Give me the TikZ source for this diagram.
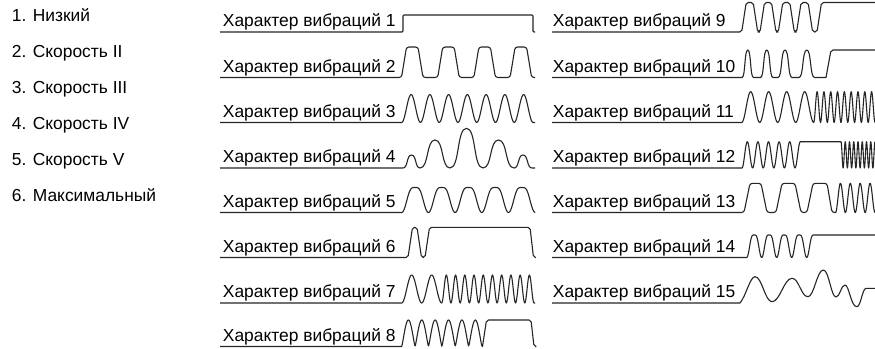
\documentclass[tikz,border=0pt]{standalone}
\usepackage{fontspec}
\setmainfont{Liberation Sans}
% hump from current point (#1,#3) to (#1+#2,#3), peak level #4, shape #5
\newcommand\hump[5]{ .. controls ({#1+#5*(#2)},#3) and ({#1+(0.5-#5)*(#2)},#4) .. ({#1+0.5*(#2)},#4)
 .. controls ({#1+(0.5+#5)*(#2)},#4) and ({#1+(1-#5)*(#2)},#3) .. ({#1+(#2)},#3)}
\begin{document}
\begin{tikzpicture}[x=1pt,y=-1pt,
  wave/.style={line width=1.1pt,draw=black!85,line join=round},
  lab/.style={anchor=base west,inner sep=0pt,font=\fontsize{17.4}{20}\selectfont}]
\fill[white] (0,0) rectangle (875,348);
\useasboundingbox (0,0) rectangle (875,348);

% left list
\node[lab] (l1) at (11.7,21) {1. Низкий};
\node[lab] (l2) at (11.7,57) {2. Скорость II};
\node[lab] (l3) at (11.7,93) {3. Скорость III};
\node[lab] (l4) at (11.7,129) {4. Скорость IV};
\node[lab] (l5) at (11.7,165) {5. Скорость V};
\node[lab] (l6) at (11.7,201) {6. Максимальный};

% middle labels
\node[lab] (m1) at (222.7,26.5) {Характер вибраций 1};
\node[lab] (m2) at (222.7,72) {Характер вибраций 2};
\node[lab] (m3) at (222.7,117) {Характер вибраций 3};
\node[lab] (m4) at (222.7,162.5) {Характер вибраций 4};
\node[lab] (m5) at (222.7,207) {Характер вибраций 5};
\node[lab] (m6) at (222.7,252) {Характер вибраций 6};
\node[lab] (m7) at (222.7,297.5) {Характер вибраций 7};
\node[lab] (m8) at (222.7,341) {Характер вибраций 8};

% right labels
\node[lab] (r9) at (552.7,26.5) {Характер вибраций 9};
\node[lab] (r10) at (552.7,72) {Характер вибраций 10};
\node[lab] (r11) at (552.7,117) {Характер вибраций 11};
\node[lab] (r12) at (552.7,162.5) {Характер вибраций 12};
\node[lab] (r13) at (552.7,207) {Характер вибраций 13};
\node[lab] (r14) at (552.7,252) {Характер вибраций 14};
\node[lab] (r15) at (552.7,297.5) {Характер вибраций 15};

% ---------- middle waveforms ----------
% 1
\draw[wave,rounded corners=1pt] (220,32) -- (403,32) -- (403,15) -- (533,15) -- (533,32) -- (535,32);
% 2
\draw[wave,rounded corners=2.5pt] (220,77.5)
  foreach \i in {0,...,3}{ -- ({401.5+36.2*\i},77.5) -- ({406.5+36.2*\i},47) -- ({418+36.2*\i},47) -- ({423+36.2*\i},77.5) }
  -- (535,77.5);
% 3
\draw[wave] (220,122.5) -- (401.7,122.5)
  -- plot[domain=401.7:533,samples=141,variable=\t] (\t,{122.5-28*(1-cos(((\t-401.7)/18.757)*360))/2})
  -- (535,122.5);
% 4
\draw[wave] (220,168) -- (403,168) \hump{403}{17}{168}{155}{0.3} \hump{420}{30}{168}{140}{0.3}
  \hump{450}{33}{168}{128.3}{0.3} \hump{483}{31}{168}{140}{0.3} \hump{514}{18}{168}{155}{0.3} -- (535,168);
% 5
\draw[wave] (220,212.5) -- (401.7,212.5)
  -- plot[domain=401.7:535.2,samples=201,variable=\t] (\t,{212.5-25*sin(90*(1-cos(((\t-401.7)/26.7)*360))/2)});
% 6
\draw[wave,rounded corners=2pt] (220,257.5) -- (408,257.5) -- (412.5,227.3) -- (417,227.3) -- (421.5,257.5)
  -- (425,257.5) -- (429.5,227.3) -- (530,227.3) -- (533.5,257.5) -- (535,257.5);
% 7
\draw[wave] (220,303) -- (401.7,303)
  -- plot[domain=401.7:441.7,samples=61,variable=\t] (\t,{303-28*(1-cos(((\t-401.7)/20)*360))/2})
  -- plot[domain=441.7:534,samples=161,variable=\t] (\t,{303-28*(1-cos(((\t-441.7)/9.23)*360))/2})
  -- (535,303);
% 8
\draw[wave] (220,346.5) -- (401.7,346.5)
  -- plot[domain=401.7:482,samples=161,variable=\t] (\t,{346.5-26.5*((1-cos(((\t-401.7)/13.383)*360))/2+0.0005)^0.6})
  -- (482.5,346.5) [rounded corners=2pt] -- (486.5,320) -- (531,320) -- (534,346.5) -- (535,346.5);

% ---------- right waveforms ----------
% 9
\draw[wave,rounded corners=2pt] (552,32)
  foreach \i in {0,...,3}{ -- ({741.7+18.3*\i},32) -- ({746.2+18.3*\i},2.5) -- ({753.2+18.3*\i},2.5) -- ({757.7+18.3*\i},32) }
  -- (817,32) -- (821.5,2.5) -- (875,2.5);
% 10
\draw[wave] (552,77.5) -- (742,77.5) \hump{742}{11.5}{77.5}{50}{0.3} -- (760.5,77.5)
  \hump{760.5}{12.5}{77.5}{50}{0.3} -- (778,77.5) \hump{778}{14}{77.5}{50}{0.3}
  -- (799,77.5) \hump{799}{15.5}{77.5}{50}{0.3} -- (826,77.5) [rounded corners=2pt] -- (831,50) -- (875,50);
% 11
\draw[wave] (552,122.5) -- (741.7,122.5)
  -- plot[domain=741.7:813.7,samples=121,variable=\t] (\t,{122.5-30.8*(1-cos(((\t-741.7)/18)*360))/2})
  -- plot[domain=813.7:875,samples=181,variable=\t] (\t,{122.5-30.8*(1-cos(((\t-813.7)/6.811)*360))/2});
% 12
\draw[wave] (552,168) -- (742,168)
  -- plot[domain=742:800.3,samples=141,variable=\t] (\t,{168-26.3*(1-cos(((\t-742)/10.6)*360))/2})
  -- (841,141.7)
  -- plot[domain=841:875,samples=161,variable=\t] (\t,{141.7+26.3*(1-cos(((\t-841)/4.25)*360))/2});
% 13
\draw[wave,rounded corners=2.5pt] (552,212.5) -- (744,212.5) -- (750,183.3) -- (761,183.3) -- (767,212.5)
  -- (776,212.5) -- (782,183.3) -- (795,183.3) -- (801,212.5)
  -- (807,212.5) -- (813,183.3) -- (827,183.3) -- (832,212.5) -- (836,212.5);
\draw[wave] (835.5,212.5)
  -- plot[domain=835.5:875,samples=121,variable=\t] (\t,{212.5-29.2*(1-cos(((\t-835.5)/9.875)*360))/2});
% 14
\draw[wave] (552,257.5) -- (746.7,257.5)
  -- plot[domain=746.7:814.2,samples=181,variable=\t] (\t,{257.5-22.5*sin(90*(1-cos(((\t-746.7)/15)*360))/2)})
  -- (875,235);
% 15
\draw[wave] (552,303) -- (740,303) .. controls (746,296) and (750,276.7) .. (755,276.7)
  .. controls (762,276.7) and (765,301.7) .. (772,301.7)
  .. controls (780,301.7) and (784,278.3) .. (792,278.3)
  .. controls (799,278.3) and (801,296.7) .. (808,296.7)
  .. controls (814,296.7) and (817,270) .. (823.3,270)
  .. controls (829,270) and (831,297) .. (836,297)
  .. controls (840,297) and (841,285) .. (845,285)
  .. controls (849,285) and (851,306.7) .. (856.7,306.7)
  .. controls (861,306.7) and (862,289) .. (866,288.3) -- (875,288.3);
\end{tikzpicture}
\end{document}
